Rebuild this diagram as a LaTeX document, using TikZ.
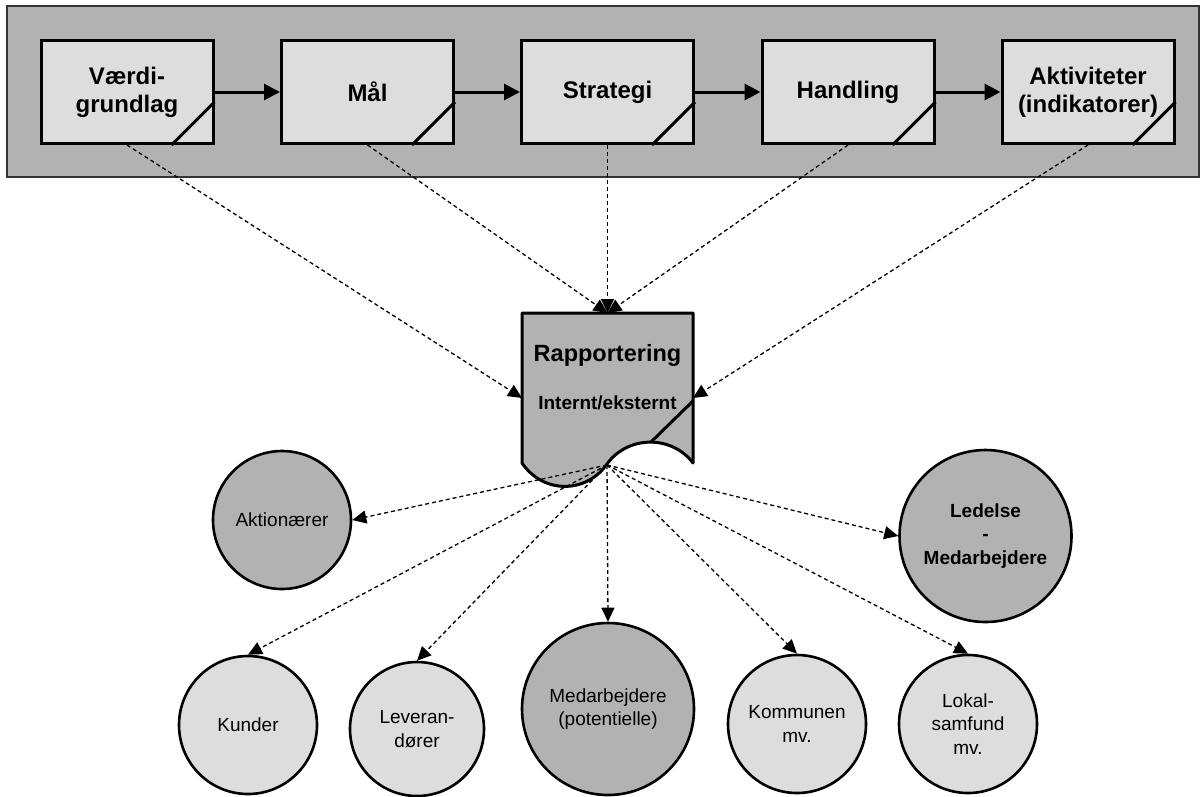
\documentclass[tikz,border=0pt]{standalone}
\usepackage{fontspec}
\setmainfont{Liberation Sans}
\usetikzlibrary{arrows.meta}
\definecolor{darkgr}{HTML}{B2B2B2}
\definecolor{lightgr}{HTML}{DDDDDD}
\tikzset{
  stepbox/.style={draw, line width=3pt, fill=lightgr, minimum width=172pt, minimum height=103pt, inner sep=0pt, align=center, font=\fontsize{24}{28}\selectfont\bfseries},
  flowarrow/.style={line width=3pt, -{Triangle[length=16pt,width=16pt]}},
  dasharrow/.style={line width=1.3pt, dash pattern=on 4pt off 3pt, -{Triangle[length=14pt,width=13pt]}},
  diag/.style={line width=3pt},
  bubble/.style={draw, circle, line width=2.6pt, inner sep=0pt, align=center, font=\fontsize{19}{23.5}\selectfont},
  lightbubble/.style={bubble, fill=lightgr},
  darkbubble/.style={bubble, fill=darkgr},
}
\begin{document}
\begin{tikzpicture}[x=1pt,y=-1pt]
\useasboundingbox (0,0) rectangle (1201,796);
% background band
\draw[fill=darkgr, line width=1.2pt, draw=black!80] (7,6) rectangle (1199,177);
% boxes
\node[stepbox] (b1) at (127,92) {Værdi-\\grundlag};
\node[stepbox] (b2) at (367.5,92) {Mål};
\node[stepbox] (b3) at (607.5,92) {Strategi};
\node[stepbox] (b4) at (848,92) {Handling};
\node[stepbox] (b5) at (1088,92) {Aktiviteter\\(indikatorer)};
\foreach \b in {b1,b2,b3,b4,b5}{
  \draw[diag] ([xshift=-43pt]\b.south east) -- ([yshift=43pt]\b.south east);
}
\draw[flowarrow] (b1) -- (b2);
\draw[flowarrow] (b2) -- (b3);
\draw[flowarrow] (b3) -- (b4);
\draw[flowarrow] (b4) -- (b5);
% document shape
\draw[fill=darkgr, line width=3pt, line join=round] (522,313) -- (693,313) -- (693,463)
  .. controls (672,435) and (628,435) .. (607,464)
  .. controls (586,494) and (543,494) .. (522,463) -- cycle;
\draw[diag] (651,442) -- (693,401);
\node[font=\fontsize{23.5}{28}\selectfont\bfseries] (rap) at (607.5,355) {Rapportering};
\node[font=\fontsize{19}{23}\selectfont\bfseries] (rapsub) at (607.5,403) {Internt/eksternt};
\coordinate (rapN) at (607.5,313);
\coordinate (rapW) at (522,398);
\coordinate (rapE) at (693,398);
\coordinate (rapS) at (607,465);
% incoming dashed
\draw[dasharrow] (b1.south) -- (rapW);
\draw[dasharrow] (b2.south) -- (rapN);
\draw[dasharrow] (b3.south) -- (rapN);
\draw[dasharrow] (b4.south) -- (rapN);
\draw[dasharrow] (b5.south) -- (rapE);
% stakeholders
\node[darkbubble, minimum size=138pt] (akt) at (282,520) {Aktionærer};
\node[darkbubble, minimum size=172pt, font=\fontsize{19}{23.5}\selectfont\bfseries] (led) at (985.5,536) {Ledelse\\-\\Medarbejdere};
\node[lightbubble, minimum size=138pt] (kun) at (248,725) {Kunder};
\node[lightbubble, minimum size=134pt] (lev) at (417,729) {Leveran-\\dører};
\node[darkbubble, minimum size=172pt] (med) at (608,709) {Medarbejdere\\(potentielle)};
\node[lightbubble, minimum size=138pt] (kom) at (797,724) {Kommunen\\mv.};
\node[lightbubble, minimum size=138pt] (lok) at (968,724) {Lokal-\\samfund\\mv.};
% outgoing dashed
\draw[dasharrow] (rapS) -- (akt.east);
\draw[dasharrow] (rapS) -- (kun.north);
\draw[dasharrow] (rapS) -- (lev.north);
\draw[dasharrow] (rapS) -- (med.north);
\draw[dasharrow] (rapS) -- (kom.north);
\draw[dasharrow] (rapS) -- (lok.north);
\draw[dasharrow] (rapS) -- (led.west);
\end{tikzpicture}
\end{document}
